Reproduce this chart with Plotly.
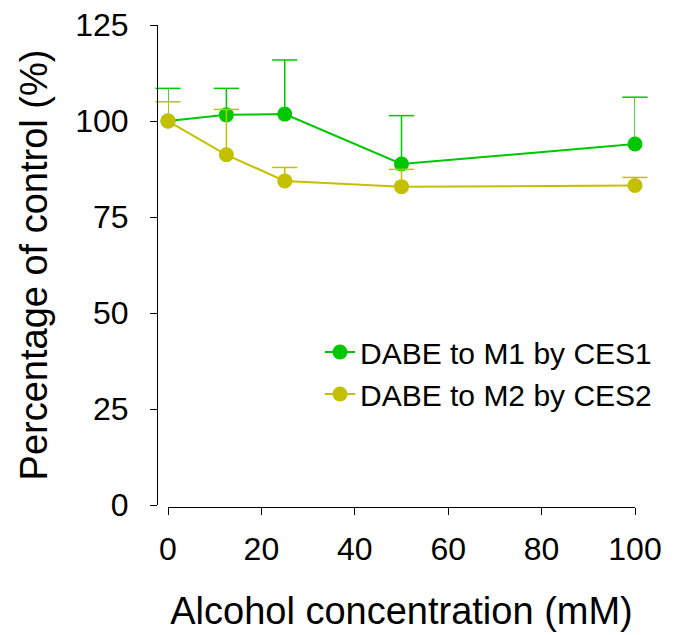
import plotly.graph_objects as go

# Data
conc = [0, 12.5, 25, 50, 100]
m1_mean = [100.0, 101.6, 101.8, 88.8, 94.0]
m1_err = [8.5, 6.9, 14.1, 12.6, 12.2]
m2_mean = [100.0, 91.2, 84.4, 82.9, 83.2]
m2_err = [5.0, 11.8, 3.5, 4.5, 2.1]

names = ["DABE to M1 by CES1", "DABE to M2 by CES2"]
colors = ["#00C800", "#C4C000"]
y_ticks = [0, 25, 50, 75, 100, 125]
x_ticks = [0, 20, 40, 60, 80, 100]

FONT = "Liberation Sans, Arial, sans-serif"

fig = go.Figure()

for name, mean, err, col in [(names[0], m1_mean, m1_err, colors[0]),
                             (names[1], m2_mean, m2_err, colors[1])]:
    tops = [m + e for m, e in zip(mean, err)]
    sx, sy = [], []
    for x, m, t in zip(conc, mean, tops):
        sx += [x, x, None]
        sy += [m, t, None]
    # upward error stems
    fig.add_trace(go.Scatter(x=sx, y=sy, mode="lines", line=dict(color=col, width=1.5),
                             showlegend=False, hoverinfo="skip", cliponaxis=False))
    # caps
    fig.add_trace(go.Scatter(x=conc, y=tops, mode="markers",
                             marker=dict(symbol="line-ew", size=18,
                                         line=dict(color=col, width=1.5)),
                             showlegend=False, hoverinfo="skip", cliponaxis=False))
    # series
    fig.add_trace(go.Scatter(x=conc, y=mean, mode="lines+markers", name=name,
                             line=dict(color=col, width=2),
                             marker=dict(color=col, size=15),
                             cliponaxis=False))

# page has an 8px body margin; plot area spans screen x 150..635, y 25..510
L, T, W, H = 142, 17, 485, 485
fig.update_layout(
    width=682, height=635,
    margin=dict(l=L, r=682 - L - W, t=T, b=635 - T - H),
    paper_bgcolor="white", plot_bgcolor="white",
    font=dict(family=FONT, color="black"),
    xaxis=dict(domain=[18/W, 1], range=[0, 100], anchor="free", position=3/H,
               tickvals=x_ticks, ticks="outside", ticklen=7, tickwidth=1, tickcolor="black",
               showline=True, linecolor="black", linewidth=1, showgrid=False, zeroline=False,
               tickfont=dict(size=32, family=FONT), ticklabelstandoff=7,
               ticklabeloverflow="allow",
               title=dict(text="Alcohol concentration (mM)", font=dict(size=38, family=FONT),
                          standoff=30),
               automargin=False),
    yaxis=dict(domain=[5/H, 1], range=[0, 125], anchor="free", position=7/W,
               tickvals=y_ticks, ticks="outside", ticklen=7, tickwidth=1, tickcolor="black",
               showline=True, linecolor="black", linewidth=1, showgrid=False, zeroline=False,
               tickfont=dict(size=32, family=FONT), ticklabelstandoff=15,
               ticklabeloverflow="allow",
               title=dict(text="Percentage of control (%)", font=dict(size=38, family=FONT),
                          standoff=14),
               automargin=False),
    legend=dict(x=(320-150)/W, y=(510-326)/H, xanchor="left", yanchor="top",
                font=dict(size=30, family=FONT), bgcolor="rgba(0,0,0,0)"),
    showlegend=True,
)

fig.write_html("out.html")
